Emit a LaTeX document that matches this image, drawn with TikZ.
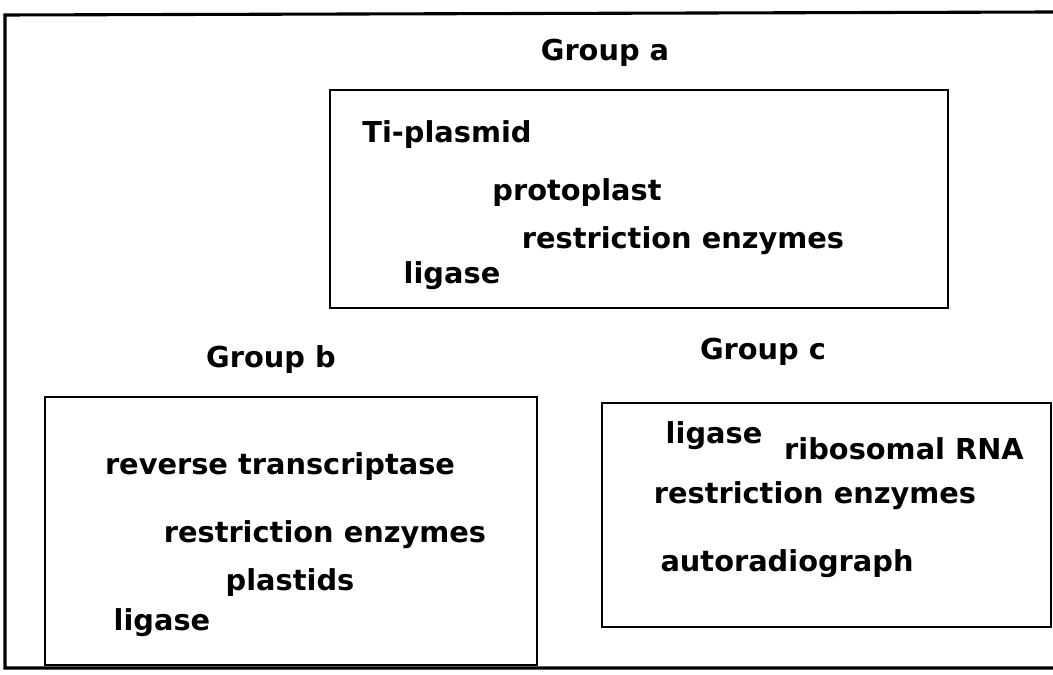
\documentclass[tikz,border=0pt]{standalone}
\usepackage{fontspec}
\setmainfont{DejaVu Sans}
\begin{document}
\begin{tikzpicture}[x=0.025cm,y=-0.025cm,
  grpbox/.style={draw,line width=2pt,inner sep=0pt},
  word/.style={font=\bfseries\fontsize{20.5}{24}\selectfont,inner sep=0pt}]
  \useasboundingbox (0,0) rectangle (1053,675);
  \draw[line width=2.2pt] (1053,12) -- (5,15) -- (5,668) -- (1053,668);

  \node[grpbox,minimum width=618*0.025cm,minimum height=218*0.025cm] (boxa) at (639,199) {};
  \node[grpbox,minimum width=492*0.025cm,minimum height=268*0.025cm] (boxb) at (291,531) {};
  \node[grpbox,minimum width=449*0.025cm,minimum height=224*0.025cm] (boxc) at (826.5,515) {};

  \node[word] (grpa) at (605,53) {Group a};
  \node[word] (tipl) at (447,135) {Ti-plasmid};
  \node[word] (prot) at (577,193) {protoplast};
  \node[word] (resa) at (683,241) {restriction enzymes};
  \node[word] (liga) at (452,276) {ligase};

  \node[word] (grpb) at (271,360) {Group b};
  \node[word] (revt) at (280,467) {reverse transcriptase};
  \node[word] (resb) at (325,535) {restriction enzymes};
  \node[word] (plas) at (290,583) {plastids};
  \node[word] (ligb) at (162,623) {ligase};

  \node[word] (grpc) at (763,352) {Group c};
  \node[word] (ligc) at (714,436) {ligase};
  \node[word] (ribo) at (904,449) {ribosomal RNA};
  \node[word] (resc) at (815,496) {restriction enzymes};
  \node[word] (auto) at (787,564) {autoradiograph};
\end{tikzpicture}
\end{document}
